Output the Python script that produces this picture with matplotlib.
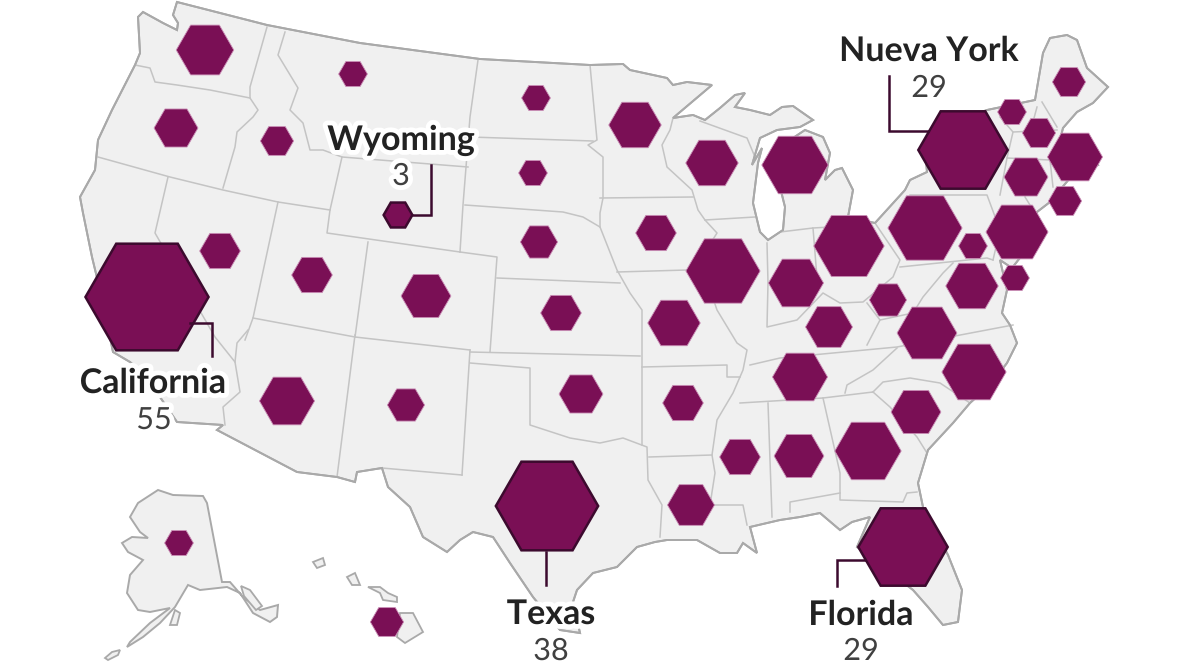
import numpy as np
import matplotlib
matplotlib.use("Agg")
import matplotlib.pyplot as plt
import matplotlib.patheffects as pe
from matplotlib.patches import Polygon, RegularPolygon

plt.rcParams['font.family'] = ['Lato', 'DejaVu Sans']

# Electoral votes per state, hexagon centres are on the map (pixel) grid
states = ["WA", "MT", "OR", "ID", "WY", "ND", "SD", "MN", "WI", "MI", "NE", "IA", "NV", "UT",
          "CO", "KS", "IL", "MO", "CA", "AZ", "NM", "OK", "AR", "TX", "LA", "MS", "AL", "TN",
          "GA", "FL", "SC", "NC", "VA", "KY", "WV", "OH", "IN", "PA", "DC", "MD", "NY", "NJ",
          "DE", "CT", "MA", "RI", "VT", "NH", "ME", "AK", "HI"]
votes = [12, 3, 7, 4, 3, 3, 3, 10, 10, 16, 5, 6, 6, 6,
         9, 6, 20, 10, 55, 11, 5, 7, 6, 38, 8, 6, 9, 11,
         16, 29, 9, 15, 13, 8, 5, 18, 11, 20, 3, 10, 29, 14,
         3, 7, 11, 4, 3, 4, 4, 3, 4]
hex_x = [205, 353, 176, 277, 398, 536, 533, 635, 712, 795, 539, 656, 220, 312,
         426, 561, 723, 674, 147, 287, 406, 581, 683, 547, 691, 740, 799, 800,
         868, 903, 916, 974, 927, 829, 888, 849, 796, 925, 973, 972, 963, 1017,
         1015, 1026, 1075, 1065, 1012, 1039, 1069, 179, 387]
hex_y = [50, 74, 128, 141, 215, 98, 173, 125, 163, 165, 242, 233, 251, 275,
         296, 313, 271, 323, 297, 401, 405, 394, 403, 506, 505, 457, 456, 377,
         451, 547, 412, 372, 333, 327, 300, 246, 283, 228, 246, 286, 150, 232,
         278, 177, 157, 201, 112, 133, 82, 543, 622]
highlighted = ["CA", "TX", "NY", "FL", "WY"]

labels = ["Wyoming", "California", "Texas", "Nueva York", "Florida"]
label_votes = ["3", "55", "38", "29", "29"]
label_x = [401, 153, 551, 929, 861]
label_y = [140, 383, 614, 51, 615]
value_x = [401, 154, 551, 929, 861]
value_y = [176, 420, 651, 88, 651]

leaders = [
    [(413, 215), (431, 215), (431, 165)],
    [(190, 323), (212, 323), (212, 356)],
    [(546, 552), (546, 585)],
    [(865, 560), (837, 560), (837, 586)],
    [(889, 76), (889, 131), (928, 131)],
]

# lower 48 outline, clockwise from Puget Sound
usa = [(177, 2), (267, 25), (360, 43), (480, 59), (590, 65), (623, 64), (630, 70), (667, 78), (673, 85),
       (687, 82), (712, 85), (673, 118), (693, 115), (705, 120), (720, 108), (735, 95), (745, 93), (735, 107),
       (750, 110), (770, 115), (782, 107), (793, 106), (813, 120), (800, 127), (777, 130), (760, 138),
       (752, 165), (762, 148), (758, 163), (753, 203), (760, 232), (768, 240), (783, 230), (785, 207),
       (777, 175), (790, 140), (805, 130), (823, 137), (830, 153), (825, 180), (835, 170), (842, 168),
       (853, 190), (848, 217), (875, 223), (905, 190), (910, 180), (927, 172), (925, 150), (945, 125),
       (987, 110), (1035, 100), (1043, 53), (1050, 38), (1067, 35), (1077, 40), (1087, 68), (1108, 87),
       (1093, 103), (1077, 112), (1063, 128), (1060, 140), (1090, 150), (1098, 165), (1075, 172), (1060, 190),
       (1050, 202), (1037, 212), (1028, 222), (1030, 245), (1012, 268), (1000, 260), (1007, 290), (1002, 313),
       (1010, 325), (1017, 343), (1007, 363), (990, 385), (970, 403), (953, 423), (928, 450), (918, 483),
       (923, 507), (948, 555), (962, 590), (958, 622), (943, 625), (928, 607), (913, 590), (857, 547),
       (870, 517), (852, 522), (840, 530), (820, 513), (800, 517), (780, 520), (750, 527), (757, 553),
       (743, 543), (737, 553), (720, 553), (697, 540), (667, 540), (655, 542), (637, 547), (617, 567),
       (593, 573), (577, 590), (573, 602), (580, 633), (560, 630), (533, 597), (510, 563), (493, 537),
       (473, 532), (460, 540), (447, 552), (423, 537), (410, 507), (388, 487), (382, 468), (357, 472),
       (355, 482), (337, 477), (297, 472), (217, 430), (223, 425), (177, 422), (145, 375), (130, 362),
       (113, 352), (100, 290), (92, 257), (83, 213), (80, 197), (95, 170), (98, 140), (112, 110),
       (135, 65), (140, 53), (138, 17), (143, 12), (163, 23), (177, 30), (178, 23), (173, 15)]

# state lines
borders = [
    [(135, 65), (150, 68), (155, 82), (177, 85), (210, 90), (250, 98)],
    [(267, 27), (250, 87), (250, 98), (258, 110), (253, 117), (237, 132), (235, 147), (223, 188)],
    [(285, 32), (278, 55), (298, 88), (290, 110), (303, 123), (310, 150), (323, 150), (342, 157), (330, 210), (327, 233), (460, 252)],
    [(98, 157), (170, 177), (223, 190), (278, 202), (330, 210)],
    [(168, 177), (155, 233), (215, 337), (235, 362)],
    [(248, 330), (237, 343), (235, 362), (240, 392), (223, 407), (225, 425)],
    [(278, 202), (253, 318), (245, 340)],
    [(253, 318), (355, 337), (470, 350)],
    [(355, 335), (337, 477)],
    [(368, 242), (355, 337)],
    [(342, 157), (468, 167)],
    [(478, 60), (470, 117), (463, 205), (460, 252)],
    [(470, 137), (593, 141)],
    [(465, 205), (563, 212), (583, 217), (600, 227), (617, 270), (630, 293), (642, 310), (642, 445)],
    [(590, 65), (597, 140), (588, 145), (603, 157), (603, 198), (600, 213), (600, 227)],
    [(600, 198), (693, 197)],
    [(617, 272), (687, 270)],
    [(673, 118), (670, 130), (662, 145), (667, 167), (692, 190), (698, 210), (705, 220), (717, 233), (700, 260), (717, 310),
     (737, 343), (747, 350), (743, 370), (733, 393), (717, 420), (712, 455), (715, 473), (710, 505), (743, 505), (747, 525)],
    [(705, 220), (755, 217)],
    [(700, 121), (747, 138), (755, 157)],
    [(460, 252), (497, 257), (490, 352)],
    [(497, 278), (620, 283)],
    [(470, 350), (462, 475)],
    [(382, 468), (462, 475)],
    [(470, 352), (640, 356)],
    [(470, 363), (530, 368), (530, 425), (570, 438), (600, 443), (623, 438), (647, 447), (648, 480), (662, 505), (660, 537)],
    [(649, 457), (712, 455)],
    [(642, 367), (727, 365), (727, 377), (740, 377)],
    [(767, 243), (768, 283), (767, 327), (797, 320), (823, 293), (840, 303), (863, 302), (893, 277), (900, 260), (875, 223)],
    [(780, 232), (813, 228), (818, 290)],
    [(813, 228), (848, 226)],
    [(900, 267), (987, 258), (993, 260)],
    [(910, 195), (987, 195), (1000, 230), (993, 260)],
    [(867, 303), (880, 320), (913, 313), (923, 297), (943, 273), (953, 263)],
    [(880, 320), (867, 345)],
    [(750, 365), (780, 358), (897, 347), (1013, 325)],
    [(897, 348), (873, 370), (847, 385), (845, 393)],
    [(740, 403), (823, 398), (873, 392)],
    [(873, 392), (883, 382), (910, 378), (940, 383), (970, 403)],
    [(873, 392), (890, 407), (917, 437), (927, 453)],
    [(823, 398), (840, 473), (840, 500), (903, 502), (907, 493), (917, 492)],
    [(840, 493), (790, 502), (790, 512)],
    [(768, 403), (772, 517)],
    [(1042, 102), (1057, 127)],
    [(1013, 132), (1057, 130)],
    [(1007, 158), (1050, 160)],
    [(1027, 160), (1025, 197), (1030, 205)],
    [(1050, 160), (1053, 187)],
    [(1037, 107), (1030, 133)],
    [(1000, 117), (1013, 132), (1007, 158), (1000, 195)],
]

alaska = [(158, 490), (173, 495), (203, 496), (207, 503), (222, 582), (230, 582), (243, 597), (260, 610), (278, 605),
          (277, 617), (270, 622), (253, 613), (240, 593), (227, 587), (200, 590), (188, 585), (175, 607), (160, 623),
          (143, 637), (127, 647), (130, 642), (150, 623), (170, 608), (150, 612), (138, 610), (127, 593), (130, 575),
          (143, 560), (128, 552), (122, 543), (132, 537), (148, 538), (140, 532), (130, 517), (138, 503)]
islands = [
    [(105, 658), (112, 652), (120, 650), (118, 655), (108, 660)],
    [(170, 625), (175, 610), (180, 613), (177, 625)],
    [(241, 586), (250, 590), (262, 606), (256, 610), (244, 596)],
    [(313, 562), (323, 558), (325, 565), (317, 568)],
    [(347, 577), (355, 573), (360, 585), (352, 585)],
    [(368, 587), (380, 587), (388, 593), (397, 597), (397, 602), (383, 600), (380, 593)],
    [(400, 613), (413, 613), (423, 632), (405, 643), (397, 637)],
]

map_fill = "#f0f0f0"
coast = "#a9a9a9"
state_line = "#c4c4c4"
hex_fill = "#7a0f55"
hex_dark = "#3c0a2e"

fig = plt.figure(figsize=(11.84, 6.66), dpi=100)
ax = fig.add_axes([0, 0, 1, 1])
ax.set_xlim(0, 1184)
ax.set_ylim(666, 0)
ax.axis("off")

# Map
ax.add_patch(Polygon(usa, closed=True, fc=map_fill, ec=coast, lw=1.4, zorder=1))
for line in borders:
    pts = np.array(line)
    ax.plot(pts[:, 0], pts[:, 1], color=state_line, lw=1.1, zorder=2)
ax.add_patch(Polygon(usa, closed=True, fc="none", ec=coast, lw=1.4, zorder=3))
ax.add_patch(Polygon(alaska, closed=True, fc=map_fill, ec=coast, lw=1.4, zorder=1))
for shape in islands:
    ax.add_patch(Polygon(shape, closed=True, fc=map_fill, ec=coast, lw=1.3, zorder=1))

# Hexagons, area follows the votes
for st, x, y, v in zip(states, hex_x, hex_y, votes):
    r = 8.3 * np.sqrt(v)
    if st in highlighted:
        ax.add_patch(RegularPolygon((x, y), 6, radius=r, orientation=np.pi / 6, fc=hex_fill,
                                    ec=hex_dark, lw=1.8, zorder=5))
    else:
        ax.add_patch(RegularPolygon((x, y), 6, radius=r, orientation=np.pi / 6, fc=hex_fill,
                                    ec="#c98db5", lw=0.6, zorder=4))

# Leader lines
for line in leaders:
    pts = np.array(line)
    ax.plot(pts[:, 0], pts[:, 1], color=hex_dark, lw=1.8, solid_joinstyle="miter", zorder=6)

# Labels
halo = [pe.withStroke(linewidth=7, foreground="white")]
for i in range(len(labels)):
    ax.text(label_x[i], label_y[i], labels[i], fontsize=24.5, fontweight="bold", color="#222222",
            ha="center", va="center", path_effects=halo, zorder=7)
    ax.text(value_x[i], value_y[i], label_votes[i], fontsize=22, color="#404040",
            ha="center", va="center", path_effects=halo, zorder=7)

fig.savefig("out.png", dpi=100)
